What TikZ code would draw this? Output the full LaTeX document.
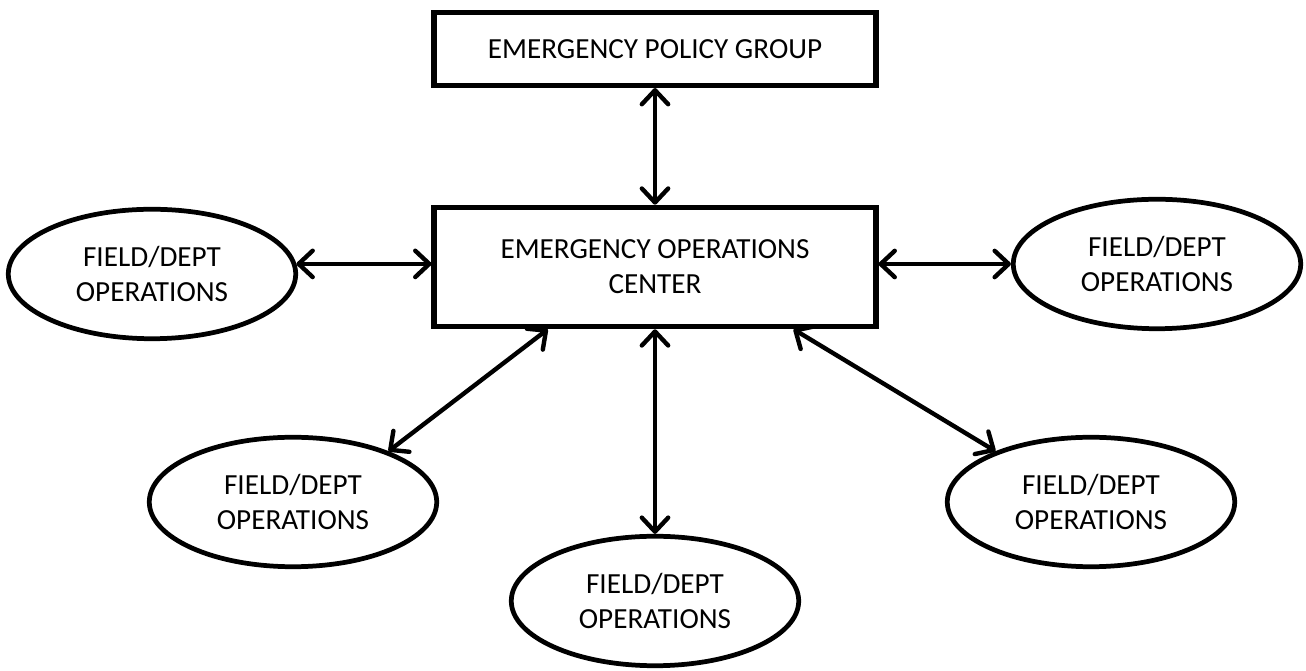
\documentclass[tikz,border=0pt]{standalone}
\usepackage{fontspec}
\setmainfont{Carlito}
\usetikzlibrary{arrows.meta,shapes.geometric,calc}
\tikzset{
  box/.style={rectangle, draw, line width=2.9pt, minimum width=8.84cm, align=center},
  field/.style={ellipse, draw, line width=2.7pt, minimum width=5.75cm, minimum height=2.59cm, inner sep=0pt, align=center},
  link/.style={{Straight Barb[length=8pt,width=15pt,round]}-{Straight Barb[length=8pt,width=15pt,round]}, line width=2.5pt}
}
\begin{document}
\begin{tikzpicture}[x=0.02cm, y=-0.02cm, font=\fontsize{16.6}{20}\selectfont]
	  \useasboundingbox (0,0) rectangle (1306,671);
	  \node[box, minimum height=1.46cm] (epg) at (655,49) {EMERGENCY POLICY GROUP};
	  \node[box, minimum height=2.39cm] (eoc) at (655,267) {EMERGENCY OPERATIONS\\CENTER};
	  
	  \node[field] (l) at (152,274) {FIELD/DEPT\\OPERATIONS};
	  \node[field] (r) at (1157,264) {FIELD/DEPT\\OPERATIONS};
	  \node[field] (ll) at (293,502) {FIELD/DEPT\\OPERATIONS};
	  \node[field] (b) at (655,601) {FIELD/DEPT\\OPERATIONS};
	  \node[field] (lr) at (1091,502) {FIELD/DEPT\\OPERATIONS};
	  
	  \draw[link] (epg.south) -- (eoc.north);
	  \draw[link] (l.4) -- (l.4 -| eoc.west);
	  \draw[link] (r.west -| eoc.east) -- (r.west);
	  \draw[link] ($(eoc.south west)!0.26!(eoc.south east)$) -- (ll.28);
	  \draw[link] (eoc.south) -- (b.north);
	  \draw[link] ($(eoc.south west)!0.81!(eoc.south east)$) -- (lr.152);
	\end{tikzpicture}
\end{document}
